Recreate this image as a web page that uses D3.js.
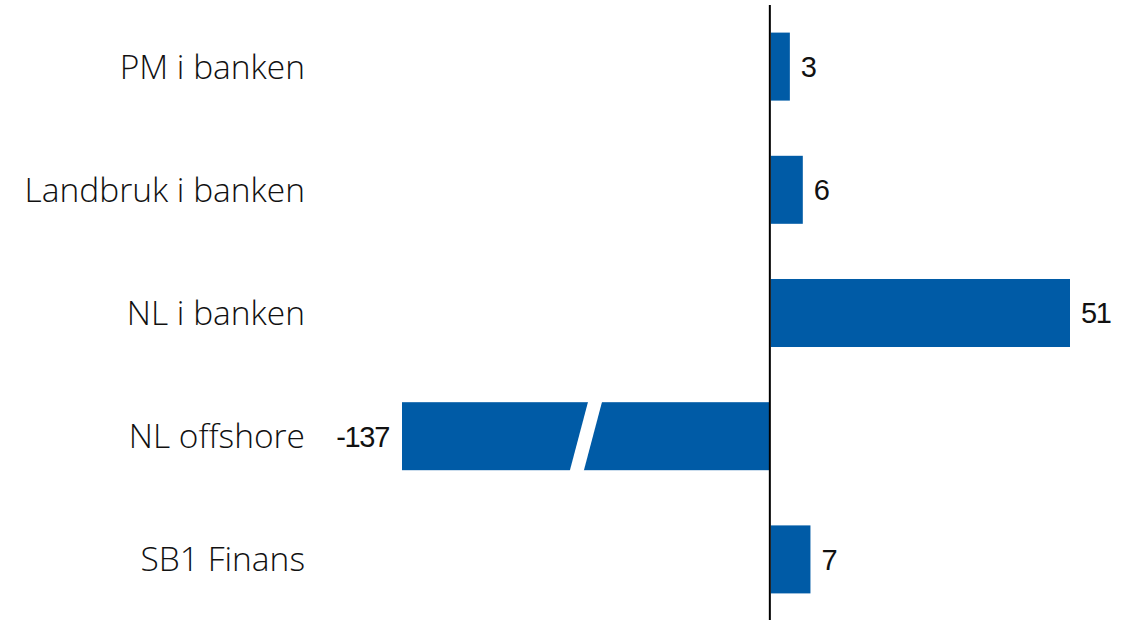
<!DOCTYPE html>
<html>
<head>
<meta charset="utf-8">
<script src="https://cdn.jsdelivr.net/npm/d3@7"></script>
<style>
  html, body { margin: 0; padding: 0; background: #fff; }
  svg { display: block; }
</style>
</head>
<body>
<svg id="chart" width="1139" height="620"></svg>
<script>
// Data
const categories = ["PM i banken", "Landbruk i banken", "NL i banken", "NL offshore", "SB1 Finans"];
const values = [3.4, 5.6, 51, -137, 6.9];
// axis truncation point (bar broken beyond this value)
const axisMin = -62.5;
const axisMax = 51;

const W = 1139, H = 620;
const svg = d3.select("#chart");
const barColor = "#005BA6";

const x = d3.scaleLinear().domain([axisMin, axisMax]).range([402, 1070]).clamp(true);
const y = d3.scaleBand().domain(categories).range([5, 621]).paddingInner(0.448).paddingOuter(0.224);

const data = categories.map((c, i) => ({ cat: c, val: values[i] }));

// bars
svg.append("g").selectAll("rect").data(data).join("rect")
  .attr("x", d => d.val >= 0 ? x(0) + 1 : x(d.val))
  .attr("width", d => d.val >= 0 ? x(d.val) - x(0) - 1 : x(0) - x(d.val))
  .attr("y", d => y(d.cat))
  .attr("height", y.bandwidth())
  .attr("fill", barColor);

// break marks for truncated bars
const bh = y.bandwidth();
const slant = 18, gap = 14;
svg.append("g").selectAll("path").data(data.filter(d => d.val < axisMin)).join("path")
  .attr("d", d => {
    const cx = (x(axisMin) + x(0)) / 2;
    const top = y(d.cat) - 2, bot = y(d.cat) + bh + 2;
    const k = slant / bh;
    return `M${cx + slant/2 - gap/2 + k*2},${top} L${cx + slant/2 + gap/2 + k*2},${top} L${cx - slant/2 + gap/2 - k*2},${bot} L${cx - slant/2 - gap/2 - k*2},${bot} Z`;
  })
  .attr("fill", "#fff");

// zero line
svg.append("line")
  .attr("x1", x(0)).attr("x2", x(0))
  .attr("y1", 5).attr("y2", H)
  .attr("stroke", "#000").attr("stroke-width", 2);

// category labels
svg.append("g").selectAll("text").data(data).join("text")
  .attr("x", 305)
  .attr("y", d => y(d.cat) + bh / 2)
  .attr("dy", "0.36em")
  .attr("text-anchor", "end")
  .attr("font-family", "'Open Sans', 'Noto Sans', sans-serif")
  .attr("font-size", 33.5)
  .attr("font-weight", 350)
  .attr("fill", "#111")
  .text(d => d.cat);

// value labels
const fmt = v => String(Math.round(v));
svg.append("g").selectAll("text").data(data).join("text")
  .attr("x", d => d.val >= 0 ? x(d.val) + 11 : x(d.val) - 13)
  .attr("y", d => y(d.cat) + bh / 2)
  .attr("dy", "0.36em")
  .attr("text-anchor", d => d.val >= 0 ? "start" : "end")
  .attr("font-family", "'Liberation Sans', Arial, sans-serif")
  .attr("font-size", 29)
  .attr("letter-spacing", -1.3)
  .attr("fill", "#111")
  .text(d => fmt(d.val));
</script>
</body>
</html>
